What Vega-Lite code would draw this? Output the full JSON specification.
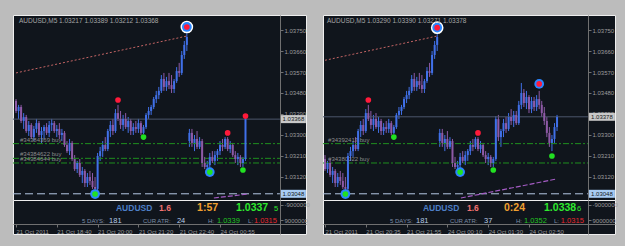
{
"$schema": "https://vega.github.io/schema/vega-lite/v6.json",
"background": "#bcbcbc",
"padding": {"left": 12, "top": 14, "right": 11, "bottom": 13},
"bounds": "flush",
"columns": 2,
"spacing": {"row": 0, "column": 17},
"config": {"font": "Liberation Sans", "view": {"fill": "#10151c", "stroke": "#eeeeee", "strokeWidth": 1}, "axis": {"grid": false, "zindex": 1, "labelFont": "Liberation Sans", "labelOverlap": false, "labelSeparation": 0, "labelBound": false}},
"datasets": {
"bars": [
{"t":0,"o":1.03446,"h":1.03454,"l":1.03394,"c":1.03403},
{"t":1,"o":1.03403,"h":1.03429,"l":1.03369,"c":1.03420},
{"t":2,"o":1.03420,"h":1.03429,"l":1.03351,"c":1.03360},
{"t":3,"o":1.03360,"h":1.03394,"l":1.03326,"c":1.03377},
{"t":4,"o":1.03377,"h":1.03386,"l":1.03309,"c":1.03317},
{"t":5,"o":1.03317,"h":1.03360,"l":1.03296,"c":1.03343},
{"t":6,"o":1.03343,"h":1.03351,"l":1.03283,"c":1.03291},
{"t":7,"o":1.03291,"h":1.03339,"l":1.03274,"c":1.03326},
{"t":8,"o":1.03326,"h":1.03369,"l":1.03309,"c":1.03351},
{"t":9,"o":1.03351,"h":1.03360,"l":1.03291,"c":1.03300},
{"t":10,"o":1.03300,"h":1.03334,"l":1.03266,"c":1.03317},
{"t":11,"o":1.03317,"h":1.03343,"l":1.03283,"c":1.03334},
{"t":12,"o":1.03334,"h":1.03351,"l":1.03300,"c":1.03309},
{"t":13,"o":1.03309,"h":1.03360,"l":1.03291,"c":1.03343},
{"t":14,"o":1.03343,"h":1.03369,"l":1.03317,"c":1.03351},
{"t":15,"o":1.03351,"h":1.03360,"l":1.03309,"c":1.03317},
{"t":16,"o":1.03317,"h":1.03343,"l":1.03291,"c":1.03326},
{"t":17,"o":1.03326,"h":1.03351,"l":1.03283,"c":1.03300},
{"t":18,"o":1.03300,"h":1.03326,"l":1.03274,"c":1.03309},
{"t":19,"o":1.03309,"h":1.03317,"l":1.03249,"c":1.03257},
{"t":20,"o":1.03257,"h":1.03274,"l":1.03223,"c":1.03231},
{"t":21,"o":1.03231,"h":1.03283,"l":1.03214,"c":1.03266},
{"t":22,"o":1.03266,"h":1.03274,"l":1.03189,"c":1.03197},
{"t":23,"o":1.03197,"h":1.03214,"l":1.03146,"c":1.03154},
{"t":24,"o":1.03154,"h":1.03189,"l":1.03137,"c":1.03180},
{"t":25,"o":1.03180,"h":1.03197,"l":1.03120,"c":1.03129},
{"t":26,"o":1.03129,"h":1.03163,"l":1.03094,"c":1.03146},
{"t":27,"o":1.03146,"h":1.03154,"l":1.03077,"c":1.03094},
{"t":28,"o":1.03094,"h":1.03137,"l":1.03077,"c":1.03120},
{"t":29,"o":1.03120,"h":1.03146,"l":1.03086,"c":1.03103},
{"t":30,"o":1.03103,"h":1.03137,"l":1.03069,"c":1.03077},
{"t":31,"o":1.03077,"h":1.03120,"l":1.03051,"c":1.03069},
{"t":32,"o":1.03069,"h":1.03223,"l":1.03060,"c":1.03210},
{"t":33,"o":1.03210,"h":1.03249,"l":1.03189,"c":1.03231},
{"t":34,"o":1.03231,"h":1.03274,"l":1.03206,"c":1.03257},
{"t":35,"o":1.03257,"h":1.03291,"l":1.03231,"c":1.03240},
{"t":36,"o":1.03240,"h":1.03326,"l":1.03231,"c":1.03317},
{"t":37,"o":1.03317,"h":1.03360,"l":1.03291,"c":1.03343},
{"t":38,"o":1.03343,"h":1.03369,"l":1.03300,"c":1.03317},
{"t":39,"o":1.03317,"h":1.03411,"l":1.03309,"c":1.03394},
{"t":40,"o":1.03394,"h":1.03429,"l":1.03360,"c":1.03369},
{"t":41,"o":1.03369,"h":1.03403,"l":1.03326,"c":1.03343},
{"t":42,"o":1.03343,"h":1.03386,"l":1.03317,"c":1.03369},
{"t":43,"o":1.03369,"h":1.03394,"l":1.03326,"c":1.03334},
{"t":44,"o":1.03334,"h":1.03377,"l":1.03309,"c":1.03360},
{"t":45,"o":1.03360,"h":1.03369,"l":1.03300,"c":1.03317},
{"t":46,"o":1.03317,"h":1.03351,"l":1.03300,"c":1.03334},
{"t":47,"o":1.03334,"h":1.03360,"l":1.03309,"c":1.03326},
{"t":48,"o":1.03326,"h":1.03369,"l":1.03309,"c":1.03351},
{"t":49,"o":1.03351,"h":1.03360,"l":1.03300,"c":1.03309},
{"t":50,"o":1.03309,"h":1.03343,"l":1.03304,"c":1.03334},
{"t":51,"o":1.03334,"h":1.03394,"l":1.03326,"c":1.03386},
{"t":52,"o":1.03386,"h":1.03420,"l":1.03369,"c":1.03403},
{"t":53,"o":1.03403,"h":1.03429,"l":1.03386,"c":1.03420},
{"t":54,"o":1.03420,"h":1.03463,"l":1.03411,"c":1.03454},
{"t":55,"o":1.03454,"h":1.03489,"l":1.03437,"c":1.03471},
{"t":56,"o":1.03471,"h":1.03506,"l":1.03454,"c":1.03489},
{"t":57,"o":1.03489,"h":1.03557,"l":1.03480,"c":1.03540},
{"t":58,"o":1.03540,"h":1.03566,"l":1.03489,"c":1.03506},
{"t":59,"o":1.03506,"h":1.03549,"l":1.03489,"c":1.03531},
{"t":60,"o":1.03531,"h":1.03566,"l":1.03497,"c":1.03514},
{"t":61,"o":1.03514,"h":1.03557,"l":1.03480,"c":1.03497},
{"t":62,"o":1.03497,"h":1.03540,"l":1.03480,"c":1.03531},
{"t":63,"o":1.03531,"h":1.03591,"l":1.03523,"c":1.03574},
{"t":64,"o":1.03574,"h":1.03609,"l":1.03549,"c":1.03566},
{"t":65,"o":1.03566,"h":1.03660,"l":1.03557,"c":1.03643},
{"t":66,"o":1.03643,"h":1.03703,"l":1.03626,"c":1.03686},
{"t":67,"o":1.03686,"h":1.03737,"l":1.03660,"c":1.03720},
{"t":68,"o":1.03274,"h":1.03326,"l":1.03249,"c":1.03309},
{"t":69,"o":1.03309,"h":1.03326,"l":1.03249,"c":1.03266},
{"t":70,"o":1.03266,"h":1.03300,"l":1.03231,"c":1.03283},
{"t":71,"o":1.03283,"h":1.03317,"l":1.03240,"c":1.03249},
{"t":72,"o":1.03249,"h":1.03291,"l":1.03240,"c":1.03274},
{"t":73,"o":1.03274,"h":1.03283,"l":1.03163,"c":1.03180},
{"t":74,"o":1.03180,"h":1.03206,"l":1.03154,"c":1.03163},
{"t":75,"o":1.03163,"h":1.03189,"l":1.03146,"c":1.03171},
{"t":76,"o":1.03171,"h":1.03223,"l":1.03146,"c":1.03206},
{"t":77,"o":1.03206,"h":1.03231,"l":1.03180,"c":1.03189},
{"t":78,"o":1.03189,"h":1.03231,"l":1.03171,"c":1.03214},
{"t":79,"o":1.03214,"h":1.03240,"l":1.03189,"c":1.03231},
{"t":80,"o":1.03231,"h":1.03274,"l":1.03214,"c":1.03257},
{"t":81,"o":1.03257,"h":1.03283,"l":1.03231,"c":1.03249},
{"t":82,"o":1.03249,"h":1.03291,"l":1.03240,"c":1.03283},
{"t":83,"o":1.03283,"h":1.03291,"l":1.03231,"c":1.03240},
{"t":84,"o":1.03240,"h":1.03274,"l":1.03223,"c":1.03257},
{"t":85,"o":1.03257,"h":1.03266,"l":1.03206,"c":1.03214},
{"t":86,"o":1.03214,"h":1.03231,"l":1.03180,"c":1.03197},
{"t":87,"o":1.03197,"h":1.03223,"l":1.03171,"c":1.03206},
{"t":88,"o":1.03206,"h":1.03214,"l":1.03163,"c":1.03180},
{"t":89,"o":1.03180,"h":1.03206,"l":1.03163,"c":1.03197},
{"t":90,"o":1.03197,"h":1.03381,"l":1.03189,"c":1.03368},
{"t":91,"o":1.03368,"h":1.03386,"l":1.03274,"c":1.03291},
{"t":92,"o":1.03291,"h":1.03326,"l":1.03249,"c":1.03317},
{"t":93,"o":1.03317,"h":1.03369,"l":1.03291,"c":1.03351},
{"t":94,"o":1.03351,"h":1.03377,"l":1.03309,"c":1.03326},
{"t":95,"o":1.03326,"h":1.03394,"l":1.03317,"c":1.03377},
{"t":96,"o":1.03377,"h":1.03411,"l":1.03343,"c":1.03360},
{"t":97,"o":1.03360,"h":1.03403,"l":1.03334,"c":1.03386},
{"t":98,"o":1.03386,"h":1.03403,"l":1.03343,"c":1.03351},
{"t":99,"o":1.03351,"h":1.03446,"l":1.03343,"c":1.03429},
{"t":100,"o":1.03429,"h":1.03523,"l":1.03411,"c":1.03480},
{"t":101,"o":1.03480,"h":1.03497,"l":1.03420,"c":1.03437},
{"t":102,"o":1.03437,"h":1.03489,"l":1.03411,"c":1.03463},
{"t":103,"o":1.03463,"h":1.03471,"l":1.03394,"c":1.03411},
{"t":104,"o":1.03411,"h":1.03463,"l":1.03394,"c":1.03446},
{"t":105,"o":1.03446,"h":1.03463,"l":1.03403,"c":1.03420},
{"t":106,"o":1.03420,"h":1.03471,"l":1.03403,"c":1.03454},
{"t":107,"o":1.03454,"h":1.03489,"l":1.03411,"c":1.03429},
{"t":108,"o":1.03429,"h":1.03446,"l":1.03377,"c":1.03394},
{"t":109,"o":1.03394,"h":1.03420,"l":1.03343,"c":1.03360},
{"t":110,"o":1.03360,"h":1.03377,"l":1.03291,"c":1.03309},
{"t":111,"o":1.03309,"h":1.03334,"l":1.03249,"c":1.03266},
{"t":112,"o":1.03266,"h":1.03300,"l":1.03231,"c":1.03283},
{"t":113,"o":1.03283,"h":1.03351,"l":1.03266,"c":1.03334},
{"t":114,"o":1.03334,"h":1.03386,"l":1.03317,"c":1.03378}
],
"sigL": [
{"t":40,"p":1.03450,"kind":"high","ring":0},
{"t":50,"p":1.03291,"kind":"low","ring":0},
{"t":67,"p":1.03763,"kind":"high","ring":2},
{"t":31,"p":1.03047,"kind":"low","ring":1},
{"t":76,"p":1.03141,"kind":"low","ring":1},
{"t":83,"p":1.03309,"kind":"high","ring":0},
{"t":89,"p":1.03150,"kind":"low","ring":0},
{"t":90,"p":1.03381,"kind":"high","ring":0}
],
"sigR": [
{"t":40,"p":1.03450,"kind":"high","ring":0},
{"t":50,"p":1.03291,"kind":"low","ring":0},
{"t":67,"p":1.03760,"kind":"high","ring":2},
{"t":31,"p":1.03047,"kind":"low","ring":1},
{"t":76,"p":1.03141,"kind":"low","ring":1},
{"t":83,"p":1.03309,"kind":"high","ring":0},
{"t":89,"p":1.03150,"kind":"low","ring":0},
{"t":107,"p":1.03519,"kind":"high","ring":1},
{"t":112,"p":1.03210,"kind":"low","ring":0}
],
"levelsL": [
{"p":1.03263,"kind":"order","label":"#34384369 buy"},
{"p":1.03200,"kind":"order","label":"#34384622 buy"},
{"p":1.03180,"kind":"order","label":"#34384644 buy"},
{"p":1.03048,"kind":"stop","label":"1.03048"},
{"p":1.03368,"kind":"bid","label":"1.03368"}
],
"levelsR": [
{"p":1.03263,"kind":"order","label":"#34392417 buy"},
{"p":1.03180,"kind":"order","label":"#34380022 buy"},
{"p":1.03048,"kind":"stop","label":"1.03048"},
{"p":1.03378,"kind":"bid","label":"1.03378"}
],
"trend": [{"t":0,"p":1.03566},{"t":67,"p":1.03724}],
"indL": [{"t":77.6,"p":1.03030},{"t":91,"p":1.03047}],
"indR": [{"t":76.3,"p":1.03030},{"t":113.6,"p":1.03111}],
"infoL": [
{"t":39.2,"row":1,"text":"AUDUSD","cat":"sym"},
{"t":56.1,"row":1,"text":"1.6","cat":"spread"},
{"t":71.0,"row":1,"text":"1:57","cat":"timer"},
{"t":86.3,"row":1,"text":"1.0337","cat":"bid"},
{"t":101.2,"row":1,"text":"5","cat":"digit"},
{"t":25.9,"row":2,"text":"5 DAYS:","cat":"lbl"},
{"t":36.5,"row":2,"text":"181","cat":"val"},
{"t":49.8,"row":2,"text":"CUR ATR:","cat":"lbl"},
{"t":63.1,"row":2,"text":"24","cat":"val"},
{"t":75.3,"row":2,"text":"H:","cat":"lbl"},
{"t":78.8,"row":2,"text":"1.0339","cat":"hi"},
{"t":91.0,"row":2,"text":"L:","cat":"lbl"},
{"t":93.3,"row":2,"text":"1.0315","cat":"lo"}
],
"infoR": [
{"t":61.4,"row":1,"text":"AUDUSD","cat":"sym"},
{"t":78.7,"row":1,"text":"1.6","cat":"spread"},
{"t":93.2,"row":1,"text":"0:24","cat":"timer"},
{"t":108.9,"row":1,"text":"1.0338","cat":"bid"},
{"t":121.8,"row":1,"text":"6","cat":"digit"},
{"t":48.5,"row":2,"text":"5 DAYS:","cat":"lbl"},
{"t":58.7,"row":2,"text":"181","cat":"val"},
{"t":72.0,"row":2,"text":"CUR ATR:","cat":"lbl"},
{"t":85.4,"row":2,"text":"37","cat":"val"},
{"t":97.9,"row":2,"text":"H:","cat":"lbl"},
{"t":101.0,"row":2,"text":"1.0352","cat":"hi"},
{"t":112.8,"row":2,"text":"L:","cat":"lbl"},
{"t":115.5,"row":2,"text":"1.0315","cat":"lo"}
]
},
"concat": [
{"width": 293, "height": 185,
"title": {"text": "AUDUSD,M5  1.03217 1.03389 1.03212 1.03368", "anchor": "start", "frame": "group", "offset": -9, "dx": 6, "fontSize": 6.5, "fontWeight": "normal", "color": "#a6a6a6"},
"layer": [
{"data": {"name": "bars"}, "transform": [{"filter": "datum.t <= 90"}], "mark": {"type": "rule", "strokeWidth": 1},
"encoding": {"x": {"field": "t", "type": "quantitative", "scale": {"domain": [-1.18, 113.73], "nice": false, "zero": false}, "axis": null},
"y": {"field": "l", "type": "quantitative", "scale": {"domain": [1.030214, 1.038143], "nice": false, "zero": false},
"axis": {"orient": "right", "offset": -26, "title": null, "values": [1.0312,1.0321,1.033,1.0339,1.0348,1.0357,1.0366,1.0375], "tickCount": 50, "format": ".5f", "domainColor": "#707070", "tickColor": "#707070", "tickSize": 3, "labelPadding": 1, "labelColor": "#9c9c9c", "labelFontSize": 6, "labelBaseline": "middle", "labelFlush": false, "labelOverlap": false, "labelSeparation": 0}},
"y2": {"field": "h"},
"color": {"condition": {"test": "datum.c >= datum.o", "value": "#4070e8"}, "value": "#8e5aa6"}}},
{"data": {"name": "levelsL"}, "transform": [{"filter": "datum.kind == 'order'"}], "mark": {"type": "rule", "color": "#1f8f1f", "strokeDash": [6,2,2,2], "strokeWidth": 1},
"encoding": {"y": {"field": "p", "type": "quantitative", "scale": {"domain": [1.030214, 1.038143], "nice": false, "zero": false}}, "x": {"datum": -1.18, "type": "quantitative", "scale": {"domain": [-1.18, 113.73], "nice": false, "zero": false}, "axis": null}, "x2": {"datum": 103.5}}},
{"data": {"name": "levelsL"}, "transform": [{"filter": "datum.kind == 'order'"}], "mark": {"type": "text", "align": "left", "baseline": "middle", "dy": -4, "fontSize": 6, "color": "#8c8c8c"},
"encoding": {"y": {"field": "p", "type": "quantitative", "scale": {"domain": [1.030214, 1.038143], "nice": false, "zero": false}}, "x": {"datum": 1.57, "type": "quantitative", "scale": {"domain": [-1.18, 113.73], "nice": false, "zero": false}, "axis": null}, "text": {"field": "label"}}},
{"data": {"name": "levelsL"}, "transform": [{"filter": "datum.kind == 'bid'"}], "mark": {"type": "rule", "color": "#4c566c", "strokeWidth": 1},
"encoding": {"y": {"field": "p", "type": "quantitative", "scale": {"domain": [1.030214, 1.038143], "nice": false, "zero": false}}, "x": {"datum": -1.18, "type": "quantitative", "scale": {"domain": [-1.18, 113.73], "nice": false, "zero": false}, "axis": null}, "x2": {"datum": 103.5}}},
{"data": {"name": "levelsL"}, "transform": [{"filter": "datum.kind == 'stop'"}], "mark": {"type": "rule", "color": "#b4c8e4", "strokeDash": [8,4], "strokeWidth": 1},
"encoding": {"y": {"field": "p", "type": "quantitative", "scale": {"domain": [1.030214, 1.038143], "nice": false, "zero": false}}, "x": {"datum": -1.18, "type": "quantitative", "scale": {"domain": [-1.18, 113.73], "nice": false, "zero": false}, "axis": null}, "x2": {"datum": 103.5}}},
{"data": {"name": "trend"}, "mark": {"type": "line", "color": "#c46464", "strokeDash": [2,2], "strokeWidth": 1, "clip": true},
"encoding": {"x": {"field": "t", "type": "quantitative", "scale": {"domain": [-1.18, 113.73], "nice": false, "zero": false}, "axis": null}, "y": {"field": "p", "type": "quantitative", "scale": {"domain": [1.030214, 1.038143], "nice": false, "zero": false}}}},
{"data": {"name": "indL"}, "mark": {"type": "line", "color": "#a45cc4", "strokeDash": [5,2], "strokeWidth": 1.2, "clip": true},
"encoding": {"x": {"field": "t", "type": "quantitative", "scale": {"domain": [-1.18, 113.73], "nice": false, "zero": false}, "axis": null}, "y": {"field": "p", "type": "quantitative", "scale": {"domain": [1.030214, 1.038143], "nice": false, "zero": false}}}},
{"data": {"name": "bars"}, "transform": [{"filter": "datum.t <= 90"}], "mark": {"type": "rule", "strokeWidth": 2},
"encoding": {"x": {"field": "t", "type": "quantitative", "scale": {"domain": [-1.18, 113.73], "nice": false, "zero": false}, "axis": null},
"y": {"field": "o", "type": "quantitative", "scale": {"domain": [1.030214, 1.038143], "nice": false, "zero": false}},
"y2": {"field": "c"},
"color": {"condition": {"test": "datum.c >= datum.o", "value": "#4070e8"}, "value": "#8e5aa6"}}},
{"data": {"name": "sigL"}, "transform": [{"filter": "datum.ring >= 2"}], "mark": {"type": "point", "shape": "circle", "filled": true, "opacity": 1, "color": "#ffffff", "size": 160},
"encoding": {"x": {"field": "t", "type": "quantitative", "scale": {"domain": [-1.18, 113.73], "nice": false, "zero": false}, "axis": null}, "y": {"field": "p", "type": "quantitative", "scale": {"domain": [1.030214, 1.038143], "nice": false, "zero": false}}}},
{"data": {"name": "sigL"}, "transform": [{"filter": "datum.ring >= 1"}], "mark": {"type": "point", "shape": "circle", "filled": true, "opacity": 1, "color": "#2a86ff", "size": 95},
"encoding": {"x": {"field": "t", "type": "quantitative", "scale": {"domain": [-1.18, 113.73], "nice": false, "zero": false}, "axis": null}, "y": {"field": "p", "type": "quantitative", "scale": {"domain": [1.030214, 1.038143], "nice": false, "zero": false}}}},
{"data": {"name": "sigL"}, "transform": [{"filter": "datum.kind == 'high'"}], "mark": {"type": "point", "shape": "circle", "filled": true, "opacity": 1, "color": "#ff1a3a", "size": 32},
"encoding": {"x": {"field": "t", "type": "quantitative", "scale": {"domain": [-1.18, 113.73], "nice": false, "zero": false}, "axis": null}, "y": {"field": "p", "type": "quantitative", "scale": {"domain": [1.030214, 1.038143], "nice": false, "zero": false}}}},
{"data": {"name": "sigL"}, "transform": [{"filter": "datum.kind == 'low'"}], "mark": {"type": "point", "shape": "circle", "filled": true, "opacity": 1, "color": "#22e022", "size": 32},
"encoding": {"x": {"field": "t", "type": "quantitative", "scale": {"domain": [-1.18, 113.73], "nice": false, "zero": false}, "axis": null}, "y": {"field": "p", "type": "quantitative", "scale": {"domain": [1.030214, 1.038143], "nice": false, "zero": false}}}},
{"data": {"name": "levelsL"}, "transform": [{"filter": "datum.kind == 'bid' || datum.kind == 'stop'"}], "mark": {"type": "tick", "orient": "horizontal", "size": 25, "thickness": 8, "opacity": 1},
"encoding": {"y": {"field": "p", "type": "quantitative", "scale": {"domain": [1.030214, 1.038143], "nice": false, "zero": false}}, "x": {"datum": 108.8, "type": "quantitative", "scale": {"domain": [-1.18, 113.73], "nice": false, "zero": false}, "axis": null},
"color": {"condition": {"test": "datum.kind == 'bid'", "value": "#c8c8c8"}, "value": "#a8ccf4"}}},
{"data": {"name": "levelsL"}, "transform": [{"filter": "datum.kind == 'bid' || datum.kind == 'stop'"}], "mark": {"type": "text", "align": "center", "baseline": "middle", "fontSize": 6, "color": "#141820"},
"encoding": {"y": {"field": "p", "type": "quantitative", "scale": {"domain": [1.030214, 1.038143], "nice": false, "zero": false}}, "x": {"datum": 108.8, "type": "quantitative", "scale": {"domain": [-1.18, 113.73], "nice": false, "zero": false}, "axis": null}, "text": {"field": "label"}}}
]},
{"width": 292, "height": 185,
"title": {"text": "AUDUSD,M5  1.03290 1.03390 1.03271 1.03378", "anchor": "start", "frame": "group", "offset": -9, "dx": 4, "fontSize": 6.5, "fontWeight": "normal", "color": "#a6a6a6"},
"layer": [
{"data": {"name": "bars"}, "transform": [{"filter": "datum.t >= 23"}], "mark": {"type": "rule", "strokeWidth": 1},
"encoding": {"x": {"field": "t", "type": "quantitative", "scale": {"domain": [22.22, 136.73], "nice": false, "zero": false}, "axis": null},
"y": {"field": "l", "type": "quantitative", "scale": {"domain": [1.030214, 1.038143], "nice": false, "zero": false},
"axis": {"orient": "right", "offset": -27, "title": null, "values": [1.0312,1.0321,1.033,1.0339,1.0348,1.0357,1.0366,1.0375], "tickCount": 50, "format": ".5f", "domainColor": "#707070", "tickColor": "#707070", "tickSize": 3, "labelPadding": 1, "labelColor": "#9c9c9c", "labelFontSize": 6, "labelBaseline": "middle", "labelFlush": false, "labelOverlap": false, "labelSeparation": 0}},
"y2": {"field": "h"},
"color": {"condition": {"test": "datum.c >= datum.o", "value": "#4070e8"}, "value": "#8e5aa6"}}},
{"data": {"name": "levelsR"}, "transform": [{"filter": "datum.kind == 'order'"}], "mark": {"type": "rule", "color": "#1f8f1f", "strokeDash": [6,2,2,2], "strokeWidth": 1},
"encoding": {"y": {"field": "p", "type": "quantitative", "scale": {"domain": [1.030214, 1.038143], "nice": false, "zero": false}}, "x": {"datum": 22.22, "type": "quantitative", "scale": {"domain": [22.22, 136.73], "nice": false, "zero": false}, "axis": null}, "x2": {"datum": 126.1}}},
{"data": {"name": "levelsR"}, "transform": [{"filter": "datum.kind == 'order'"}], "mark": {"type": "text", "align": "left", "baseline": "middle", "dy": -4, "fontSize": 6, "color": "#8c8c8c"},
"encoding": {"y": {"field": "p", "type": "quantitative", "scale": {"domain": [1.030214, 1.038143], "nice": false, "zero": false}}, "x": {"datum": 24.2, "type": "quantitative", "scale": {"domain": [22.22, 136.73], "nice": false, "zero": false}, "axis": null}, "text": {"field": "label"}}},
{"data": {"name": "levelsR"}, "transform": [{"filter": "datum.kind == 'bid'"}], "mark": {"type": "rule", "color": "#4c566c", "strokeWidth": 1},
"encoding": {"y": {"field": "p", "type": "quantitative", "scale": {"domain": [1.030214, 1.038143], "nice": false, "zero": false}}, "x": {"datum": 22.22, "type": "quantitative", "scale": {"domain": [22.22, 136.73], "nice": false, "zero": false}, "axis": null}, "x2": {"datum": 126.1}}},
{"data": {"name": "levelsR"}, "transform": [{"filter": "datum.kind == 'stop'"}], "mark": {"type": "rule", "color": "#b4c8e4", "strokeDash": [8,4], "strokeWidth": 1},
"encoding": {"y": {"field": "p", "type": "quantitative", "scale": {"domain": [1.030214, 1.038143], "nice": false, "zero": false}}, "x": {"datum": 22.22, "type": "quantitative", "scale": {"domain": [22.22, 136.73], "nice": false, "zero": false}, "axis": null}, "x2": {"datum": 126.1}}},
{"data": {"name": "trend"}, "mark": {"type": "line", "color": "#c46464", "strokeDash": [2,2], "strokeWidth": 1, "clip": true},
"encoding": {"x": {"field": "t", "type": "quantitative", "scale": {"domain": [22.22, 136.73], "nice": false, "zero": false}, "axis": null}, "y": {"field": "p", "type": "quantitative", "scale": {"domain": [1.030214, 1.038143], "nice": false, "zero": false}}}},
{"data": {"name": "indR"}, "mark": {"type": "line", "color": "#a45cc4", "strokeDash": [5,2], "strokeWidth": 1.2, "clip": true},
"encoding": {"x": {"field": "t", "type": "quantitative", "scale": {"domain": [22.22, 136.73], "nice": false, "zero": false}, "axis": null}, "y": {"field": "p", "type": "quantitative", "scale": {"domain": [1.030214, 1.038143], "nice": false, "zero": false}}}},
{"data": {"name": "bars"}, "transform": [{"filter": "datum.t >= 23"}], "mark": {"type": "rule", "strokeWidth": 2},
"encoding": {"x": {"field": "t", "type": "quantitative", "scale": {"domain": [22.22, 136.73], "nice": false, "zero": false}, "axis": null},
"y": {"field": "o", "type": "quantitative", "scale": {"domain": [1.030214, 1.038143], "nice": false, "zero": false}},
"y2": {"field": "c"},
"color": {"condition": {"test": "datum.c >= datum.o", "value": "#4070e8"}, "value": "#8e5aa6"}}},
{"data": {"name": "sigR"}, "transform": [{"filter": "datum.ring >= 2"}], "mark": {"type": "point", "shape": "circle", "filled": true, "opacity": 1, "color": "#ffffff", "size": 160},
"encoding": {"x": {"field": "t", "type": "quantitative", "scale": {"domain": [22.22, 136.73], "nice": false, "zero": false}, "axis": null}, "y": {"field": "p", "type": "quantitative", "scale": {"domain": [1.030214, 1.038143], "nice": false, "zero": false}}}},
{"data": {"name": "sigR"}, "transform": [{"filter": "datum.ring >= 1"}], "mark": {"type": "point", "shape": "circle", "filled": true, "opacity": 1, "color": "#2a86ff", "size": 95},
"encoding": {"x": {"field": "t", "type": "quantitative", "scale": {"domain": [22.22, 136.73], "nice": false, "zero": false}, "axis": null}, "y": {"field": "p", "type": "quantitative", "scale": {"domain": [1.030214, 1.038143], "nice": false, "zero": false}}}},
{"data": {"name": "sigR"}, "transform": [{"filter": "datum.kind == 'high'"}], "mark": {"type": "point", "shape": "circle", "filled": true, "opacity": 1, "color": "#ff1a3a", "size": 32},
"encoding": {"x": {"field": "t", "type": "quantitative", "scale": {"domain": [22.22, 136.73], "nice": false, "zero": false}, "axis": null}, "y": {"field": "p", "type": "quantitative", "scale": {"domain": [1.030214, 1.038143], "nice": false, "zero": false}}}},
{"data": {"name": "sigR"}, "transform": [{"filter": "datum.kind == 'low'"}], "mark": {"type": "point", "shape": "circle", "filled": true, "opacity": 1, "color": "#22e022", "size": 32},
"encoding": {"x": {"field": "t", "type": "quantitative", "scale": {"domain": [22.22, 136.73], "nice": false, "zero": false}, "axis": null}, "y": {"field": "p", "type": "quantitative", "scale": {"domain": [1.030214, 1.038143], "nice": false, "zero": false}}}},
{"data": {"name": "levelsR"}, "transform": [{"filter": "datum.kind == 'bid' || datum.kind == 'stop'"}], "mark": {"type": "tick", "orient": "horizontal", "size": 26, "thickness": 8, "opacity": 1},
"encoding": {"y": {"field": "p", "type": "quantitative", "scale": {"domain": [1.030214, 1.038143], "nice": false, "zero": false}}, "x": {"datum": 131.6, "type": "quantitative", "scale": {"domain": [22.22, 136.73], "nice": false, "zero": false}, "axis": null},
"color": {"condition": {"test": "datum.kind == 'bid'", "value": "#c8c8c8"}, "value": "#a8ccf4"}}},
{"data": {"name": "levelsR"}, "transform": [{"filter": "datum.kind == 'bid' || datum.kind == 'stop'"}], "mark": {"type": "text", "align": "center", "baseline": "middle", "fontSize": 6, "color": "#141820"},
"encoding": {"y": {"field": "p", "type": "quantitative", "scale": {"domain": [1.030214, 1.038143], "nice": false, "zero": false}}, "x": {"datum": 131.6, "type": "quantitative", "scale": {"domain": [22.22, 136.73], "nice": false, "zero": false}, "axis": null}, "text": {"field": "label"}}}
]},
{"width": 293, "height": 34,
"layer": [
{"data": {"name": "infoL"}, "transform": [{"filter": "datum.cat == 'sym' || datum.cat == 'spread'"}], "mark": {"type": "text", "align": "left", "baseline": "alphabetic", "fontWeight": "bold", "fontSize": 8.5},
"encoding": {"x": {"field": "t", "type": "quantitative", "scale": {"domain": [-1.18, 113.73], "nice": false, "zero": false},
"axis": {"orient": "bottom", "offset": -10, "title": null, "values": [0,16,32,48,64,80], "tickCount": 50, "labelExpr": "['21 Oct 2011','21 Oct 18:40','21 Oct 20:00','21 Oct 21:20','21 Oct 22:40','24 Oct 00:55'][round(datum.value/16)]", "labelAlign": "left", "labelBaseline": "top", "labelPadding": 1, "tickSize": 3, "labelFontSize": 6, "labelColor": "#9c9c9c", "tickColor": "#707070", "domainColor": "#707070", "labelFlush": false, "labelOverlap": false}},
"y": {"field": "row", "type": "quantitative", "scale": {"domain": [-0.04545, 3.04545], "reverse": true, "nice": false, "zero": false},
"axis": {"orient": "right", "offset": -26, "title": null, "values": [0.409, 1.773], "tickCount": 50, "labelExpr": "datum.value < 1 ? '-9000000' : '9000000'", "domainColor": "#707070", "tickColor": "#707070", "tickSize": 3, "labelPadding": 1, "labelColor": "#9c9c9c", "labelFontSize": 6, "labelBaseline": "middle", "labelFlush": false, "labelOverlap": false}},
"text": {"field": "text"},
"color": {"field": "cat", "type": "nominal", "scale": {"domain": ["sym","spread","timer","bid","digit","lbl","val","hi","lo"], "range": ["#4d7fc6","#f07272","#f0a030","#2ee82e","#2ee82e","#7f8fa8","#b9cde6","#22c422","#e8282e"]}, "legend": null}}},
{"data": {"name": "infoL"}, "transform": [{"filter": "datum.cat == 'timer' || datum.cat == 'bid'"}], "mark": {"type": "text", "align": "left", "baseline": "alphabetic", "fontWeight": "bold", "fontSize": 10.5},
"encoding": {"x": {"field": "t", "type": "quantitative", "scale": {"domain": [-1.18, 113.73], "nice": false, "zero": false}},
"y": {"field": "row", "type": "quantitative", "scale": {"domain": [-0.04545, 3.04545], "reverse": true, "nice": false, "zero": false}},
"text": {"field": "text"},
"color": {"field": "cat", "type": "nominal", "scale": {"domain": ["sym","spread","timer","bid","digit","lbl","val","hi","lo"], "range": ["#4d7fc6","#f07272","#f0a030","#2ee82e","#2ee82e","#7f8fa8","#b9cde6","#22c422","#e8282e"]}, "legend": null}}},
{"data": {"name": "infoL"}, "transform": [{"filter": "datum.cat == 'lbl'"}], "mark": {"type": "text", "align": "left", "baseline": "alphabetic", "fontSize": 6},
"encoding": {"x": {"field": "t", "type": "quantitative", "scale": {"domain": [-1.18, 113.73], "nice": false, "zero": false}},
"y": {"field": "row", "type": "quantitative", "scale": {"domain": [-0.04545, 3.04545], "reverse": true, "nice": false, "zero": false}},
"text": {"field": "text"},
"color": {"field": "cat", "type": "nominal", "scale": {"domain": ["sym","spread","timer","bid","digit","lbl","val","hi","lo"], "range": ["#4d7fc6","#f07272","#f0a030","#2ee82e","#2ee82e","#7f8fa8","#b9cde6","#22c422","#e8282e"]}, "legend": null}}},
{"data": {"name": "infoL"}, "transform": [{"filter": "datum.cat == 'val' || datum.cat == 'hi' || datum.cat == 'lo' || datum.cat == 'digit'"}], "mark": {"type": "text", "align": "left", "baseline": "alphabetic", "fontSize": 7.5},
"encoding": {"x": {"field": "t", "type": "quantitative", "scale": {"domain": [-1.18, 113.73], "nice": false, "zero": false}},
"y": {"field": "row", "type": "quantitative", "scale": {"domain": [-0.04545, 3.04545], "reverse": true, "nice": false, "zero": false}},
"text": {"field": "text"},
"color": {"field": "cat", "type": "nominal", "scale": {"domain": ["sym","spread","timer","bid","digit","lbl","val","hi","lo"], "range": ["#4d7fc6","#f07272","#f0a030","#2ee82e","#2ee82e","#7f8fa8","#b9cde6","#22c422","#e8282e"]}, "legend": null}}}
]},
{"width": 292, "height": 34,
"layer": [
{"data": {"name": "infoR"}, "transform": [{"filter": "datum.cat == 'sym' || datum.cat == 'spread'"}], "mark": {"type": "text", "align": "left", "baseline": "alphabetic", "fontWeight": "bold", "fontSize": 8.5},
"encoding": {"x": {"field": "t", "type": "quantitative", "scale": {"domain": [22.22, 136.73], "nice": false, "zero": false},
"axis": {"orient": "bottom", "offset": -10, "title": null, "values": [23,39,55,71,87,103], "tickCount": 50, "labelExpr": "['21 Oct 2011','21 Oct 20:35','21 Oct 21:55','24 Oct 00:10','24 Oct 01:30','24 Oct 02:50'][round((datum.value-23)/16)]", "labelAlign": "left", "labelBaseline": "top", "labelPadding": 1, "tickSize": 3, "labelFontSize": 6, "labelColor": "#9c9c9c", "tickColor": "#707070", "domainColor": "#707070", "labelFlush": false, "labelOverlap": false}},
"y": {"field": "row", "type": "quantitative", "scale": {"domain": [-0.04545, 3.04545], "reverse": true, "nice": false, "zero": false},
"axis": {"orient": "right", "offset": -27, "title": null, "values": [0.409, 1.773], "tickCount": 50, "labelExpr": "datum.value < 1 ? '-9000000' : '9000000'", "domainColor": "#707070", "tickColor": "#707070", "tickSize": 3, "labelPadding": 1, "labelColor": "#9c9c9c", "labelFontSize": 6, "labelBaseline": "middle", "labelFlush": false, "labelOverlap": false}},
"text": {"field": "text"},
"color": {"field": "cat", "type": "nominal", "scale": {"domain": ["sym","spread","timer","bid","digit","lbl","val","hi","lo"], "range": ["#4d7fc6","#f07272","#f0a030","#2ee82e","#2ee82e","#7f8fa8","#b9cde6","#22c422","#e8282e"]}, "legend": null}}},
{"data": {"name": "infoR"}, "transform": [{"filter": "datum.cat == 'timer' || datum.cat == 'bid'"}], "mark": {"type": "text", "align": "left", "baseline": "alphabetic", "fontWeight": "bold", "fontSize": 10.5},
"encoding": {"x": {"field": "t", "type": "quantitative", "scale": {"domain": [22.22, 136.73], "nice": false, "zero": false}},
"y": {"field": "row", "type": "quantitative", "scale": {"domain": [-0.04545, 3.04545], "reverse": true, "nice": false, "zero": false}},
"text": {"field": "text"},
"color": {"field": "cat", "type": "nominal", "scale": {"domain": ["sym","spread","timer","bid","digit","lbl","val","hi","lo"], "range": ["#4d7fc6","#f07272","#f0a030","#2ee82e","#2ee82e","#7f8fa8","#b9cde6","#22c422","#e8282e"]}, "legend": null}}},
{"data": {"name": "infoR"}, "transform": [{"filter": "datum.cat == 'lbl'"}], "mark": {"type": "text", "align": "left", "baseline": "alphabetic", "fontSize": 6},
"encoding": {"x": {"field": "t", "type": "quantitative", "scale": {"domain": [22.22, 136.73], "nice": false, "zero": false}},
"y": {"field": "row", "type": "quantitative", "scale": {"domain": [-0.04545, 3.04545], "reverse": true, "nice": false, "zero": false}},
"text": {"field": "text"},
"color": {"field": "cat", "type": "nominal", "scale": {"domain": ["sym","spread","timer","bid","digit","lbl","val","hi","lo"], "range": ["#4d7fc6","#f07272","#f0a030","#2ee82e","#2ee82e","#7f8fa8","#b9cde6","#22c422","#e8282e"]}, "legend": null}}},
{"data": {"name": "infoR"}, "transform": [{"filter": "datum.cat == 'val' || datum.cat == 'hi' || datum.cat == 'lo' || datum.cat == 'digit'"}], "mark": {"type": "text", "align": "left", "baseline": "alphabetic", "fontSize": 7.5},
"encoding": {"x": {"field": "t", "type": "quantitative", "scale": {"domain": [22.22, 136.73], "nice": false, "zero": false}},
"y": {"field": "row", "type": "quantitative", "scale": {"domain": [-0.04545, 3.04545], "reverse": true, "nice": false, "zero": false}},
"text": {"field": "text"},
"color": {"field": "cat", "type": "nominal", "scale": {"domain": ["sym","spread","timer","bid","digit","lbl","val","hi","lo"], "range": ["#4d7fc6","#f07272","#f0a030","#2ee82e","#2ee82e","#7f8fa8","#b9cde6","#22c422","#e8282e"]}, "legend": null}}}
]}
]
}
